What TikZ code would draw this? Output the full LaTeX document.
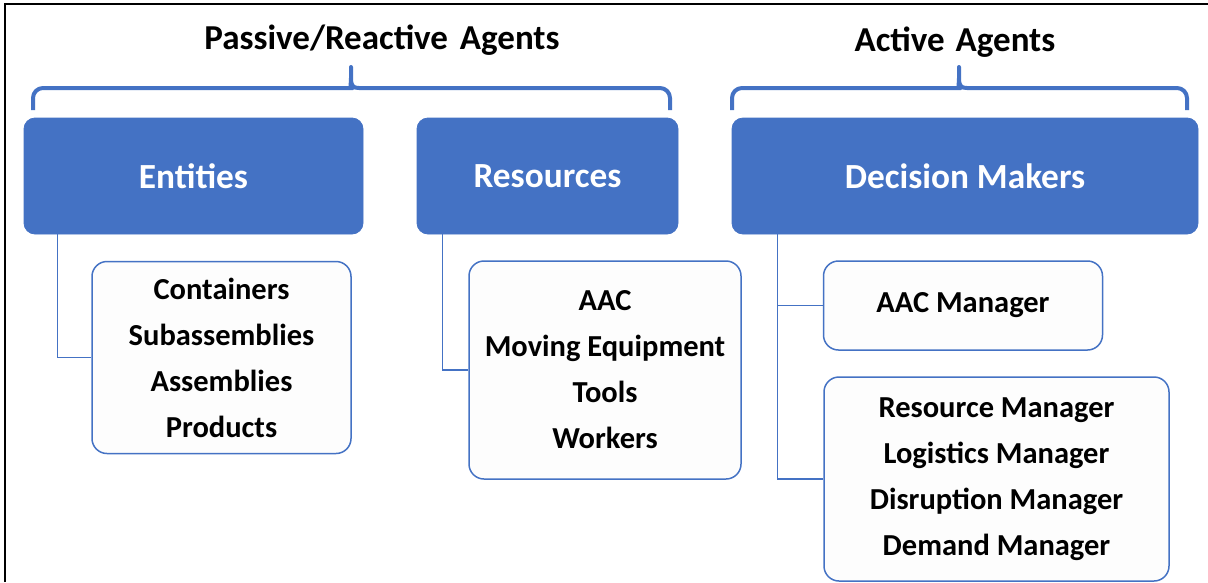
\documentclass[tikz,border=0pt]{standalone}
\usepackage{fontspec}
\setmainfont{Carlito}
\definecolor{ablue}{HTML}{4472C4}
\definecolor{boxfill}{HTML}{FDFDFD}
\tikzset{
  head/.style={rectangle, rounded corners=11pt, fill=ablue, draw=ablue, line width=0.8pt,
    text=white, font=\fontsize{35.3}{40}\selectfont\bfseries, inner sep=0pt},
  sub/.style={rectangle, rounded corners=15pt, fill=boxfill, draw=ablue, line width=1.5pt,
    text=black, font=\fontsize{30.5}{46}\selectfont\bfseries, align=center, inner sep=0pt},
  ttl/.style={font=\fontsize{35}{40}\selectfont\bfseries, text=black, inner sep=0pt},
  conn/.style={draw=ablue, line width=1.3pt},
  brc/.style={draw=ablue, line width=4pt, line join=round, line cap=butt},
}
\begin{document}
\begin{tikzpicture}[x=1pt,y=-1pt]
\useasboundingbox (0,0) rectangle (1208,582);
\fill[white] (0,0) rectangle (1208,582);
% frame
\draw[black, line width=2pt] (4.5,582) -- (4.5,4) -- (1208,4);
% titles
\node[ttl] (tp) at (382,40) {Passive/Reactive\hspace{4pt} Agents};
\node[ttl] (ta) at (955,42) {Active\hspace{3pt} Agents};
% braces
\draw[brc] (33,110) [rounded corners=10pt] -- (33,88) -- (343,88) [sharp corners]
  .. controls (349,88) and (351,86) .. (351,78) -- (351,67) -- (351,78)
  .. controls (351,86) and (353,88) .. (359,88) [rounded corners=10pt] -- (670,88) -- (670,110);
\draw[brc] (732,110) [rounded corners=10pt] -- (732,88) -- (951,88) [sharp corners]
  .. controls (957,88) and (959,86) .. (959,78) -- (959,67) -- (959,78)
  .. controls (959,86) and (961,88) .. (967,88) [rounded corners=10pt] -- (1187,88) -- (1187,110);
% head boxes
\node[head, minimum width=339pt, minimum height=116pt] (ent) at (193.5,176) {Entities};
\node[head, minimum width=261pt, minimum height=116pt] (res) at (547.5,176) {Resources};
\node[head, minimum width=466pt, minimum height=116pt] (dec) at (965,176) {Decision Makers};
% sub boxes
\node[sub, minimum width=259pt, minimum height=192pt] (esub) at (221.5,357.5)
  {Containers\\Subassemblies\\Assemblies\\Products};
\node[sub, minimum width=272pt, minimum height=218pt] (rsub) at (605,370)
  {AAC\\Moving Equipment\\Tools\\Workers};
\node[sub, minimum width=279pt, minimum height=89pt] (amgr) at (963,305.5)
  {AAC Manager};
\node[sub, minimum width=345pt, minimum height=204pt] (msub) at (996.5,479)
  {Resource Manager\\Logistics Manager\\Disruption Manager\\Demand Manager};
% connectors
\coordinate (eb) at ([xshift=34pt]ent.south west);
\coordinate (rb) at ([xshift=26pt]res.south west);
\coordinate (db) at ([xshift=46pt]dec.south west);
\draw[conn] (eb) |- (esub.west);
\draw[conn] (rb) |- (rsub.west);
\draw[conn] (db) |- (amgr.west);
\draw[conn] (db) |- (msub.west);
\end{tikzpicture}
\end{document}
